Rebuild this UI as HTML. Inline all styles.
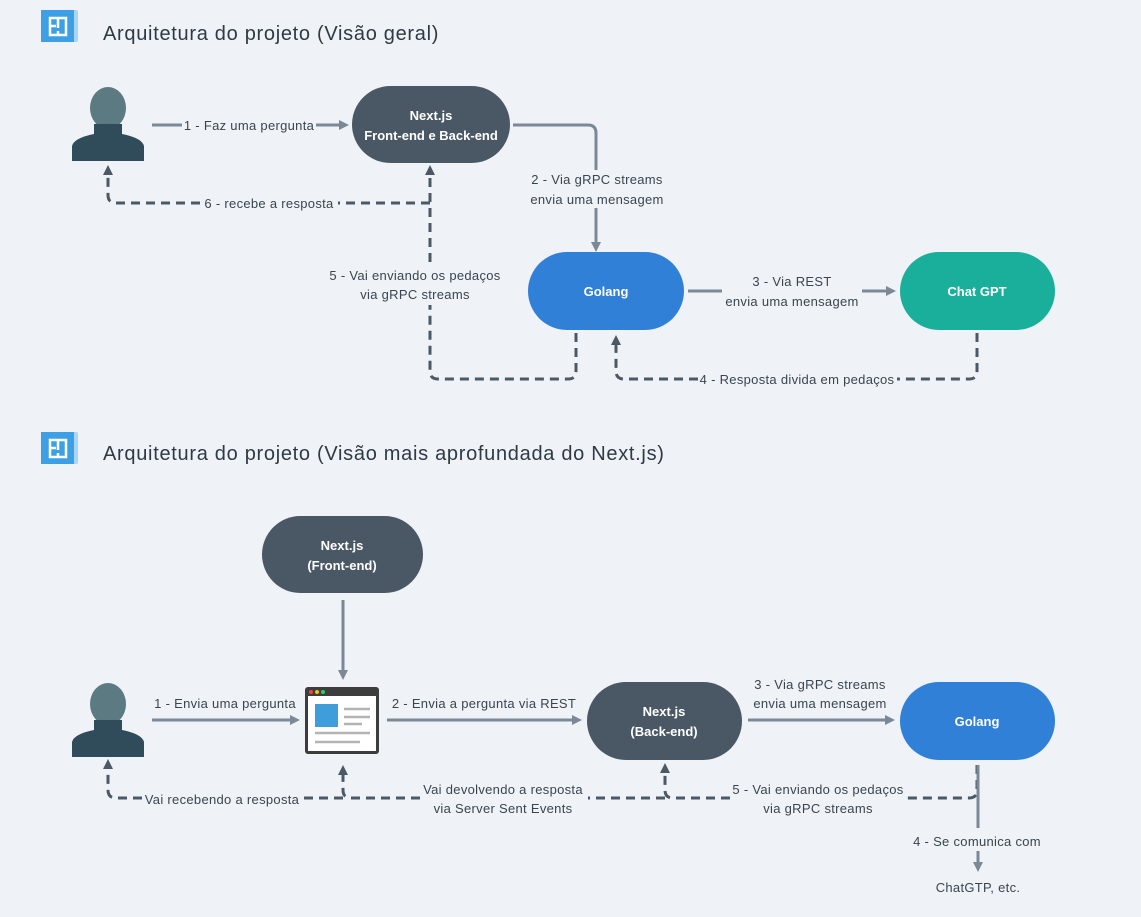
<!DOCTYPE html>
<html><head><meta charset="utf-8"><style>
html,body{margin:0;padding:0;background:#eff2f6;}
svg{display:block;font-family:"Liberation Sans",sans-serif;}
.t{font-size:13px;fill:#3a4550;letter-spacing:0.3px;}
.n{font-size:13px;fill:#fff;font-weight:bold;}
.s{stroke:#7b8895;stroke-width:3;fill:none;}
.d{stroke:#4b5966;stroke-width:3;fill:none;stroke-dasharray:9 6;}
.h{font-size:20px;fill:#2f3a45;letter-spacing:0.7px;}
</style></head><body>
<svg width="1141" height="917" viewBox="0 0 1141 917" xmlns="http://www.w3.org/2000/svg">
<defs>
<marker id="a" markerWidth="10" markerHeight="10" refX="7" refY="5" orient="auto" markerUnits="userSpaceOnUse"><path d="M0,0 L10,5 L0,10 z" fill="#7b8895"/></marker>
<marker id="b" markerWidth="10" markerHeight="10" refX="7" refY="5" orient="auto" markerUnits="userSpaceOnUse"><path d="M0,0 L10,5 L0,10 z" fill="#4b5966"/></marker>
<g id="icon"><rect x="0" y="0" width="37" height="32" rx="2" fill="#aad6f5"/><rect x="0" y="0" width="33" height="32" fill="#3ea0e4"/><path d="M9,8 h16 v17 h-16 z M9,16 h6 M17,8 v10 M17,25 v-4" stroke="#fff" stroke-width="2.5" fill="none"/></g>
<g id="person"><ellipse cx="36" cy="20" rx="18" ry="21" fill="#5b7a82"/><path d="M22,36 h28 v10 q20,4 22,12 v15 h-72 v-15 q2,-8 22,-12 z" fill="#304b5a"/></g>
</defs>

<use href="#icon" x="41" y="10"/>
<text x="103" y="40" class="h">Arquitetura do projeto (Visão geral)</text>
<use href="#person" x="72" y="88"/>

<rect x="352" y="86" width="158" height="77" rx="38.5" fill="#4a5866"/>
<text class="n" x="431" y="120" text-anchor="middle">Next.js</text>
<text class="n" x="431" y="140" text-anchor="middle">Front-end e Back-end</text>

<line class="s" x1="152" y1="125" x2="182" y2="125"/>
<line class="s" x1="316" y1="125" x2="346" y2="125" marker-end="url(#a)"/>
<text class="t" x="249" y="130" text-anchor="middle">1 - Faz uma pergunta</text>

<path class="s" d="M513,125 H588 Q596,125 596,133 V170"/>
<path class="s" d="M596,208 V249" marker-end="url(#a)"/>
<text class="t" x="597" y="184" text-anchor="middle">2 - Via gRPC streams</text>
<text class="t" x="597" y="204" text-anchor="middle">envia uma mensagem</text>

<rect x="528" y="252" width="156" height="78" rx="39" fill="#2f80d6"/>
<text class="n" x="606" y="296" text-anchor="middle">Golang</text>

<line class="s" x1="688" y1="291" x2="722" y2="291"/>
<line class="s" x1="862" y1="291" x2="893" y2="291" marker-end="url(#a)"/>
<text class="t" x="792" y="286" text-anchor="middle">3 - Via REST</text>
<text class="t" x="792" y="306" text-anchor="middle">envia uma mensagem</text>

<rect x="900" y="252" width="155" height="78" rx="39" fill="#1aaf9b"/>
<text class="n" x="977" y="296" text-anchor="middle">Chat GPT</text>

<path class="d" d="M977,333 V371 Q977,379 969,379 H897"/>
<path class="d" d="M698,379 H624 Q616,379 616,371 V338" marker-end="url(#b)"/>
<text class="t" x="797" y="384" text-anchor="middle">4 - Resposta divida em pedaços</text>

<path class="d" d="M576,333 V371 Q576,379 568,379 H438 Q430,379 430,371 V305"/>
<path class="d" d="M430,262 V168" marker-end="url(#b)"/>
<text class="t" x="415" y="280" text-anchor="middle">5 - Vai enviando os pedaços</text>
<text class="t" x="415" y="299" text-anchor="middle">via gRPC streams</text>

<path class="d" d="M430,203 H338"/>
<path class="d" d="M200,203 H116 Q108,203 108,195 V168" marker-end="url(#b)"/>
<text class="t" x="269" y="208" text-anchor="middle">6 - recebe a resposta</text>

<use href="#icon" x="41" y="432"/>
<text x="103" y="460" class="h">Arquitetura do projeto (Visão mais aprofundada do Next.js)</text>

<rect x="262" y="516" width="161" height="77" rx="38.5" fill="#4a5866"/>
<text class="n" x="342" y="550" text-anchor="middle">Next.js</text>
<text class="n" x="342" y="570" text-anchor="middle">(Front-end)</text>
<path class="s" d="M343,600 V677" marker-end="url(#a)"/>

<use href="#person" x="72" y="684"/>

<g transform="translate(305,687)">
<rect x="0" y="0" width="74" height="67" rx="3" fill="#3d3d3d"/>
<rect x="3" y="9" width="68" height="55" fill="#fff"/>
<circle cx="6" cy="5" r="2" fill="#e74c3c"/><circle cx="12" cy="5" r="2" fill="#f1c40f"/><circle cx="18" cy="5" r="2" fill="#2ecc71"/>
<rect x="10" y="17" width="23" height="23" fill="#3f9ddb"/>
<g stroke="#b3b3b3" stroke-width="2.5"><line x1="39" y1="22" x2="65" y2="22"/><line x1="39" y1="30" x2="65" y2="30"/><line x1="39" y1="37" x2="57" y2="37"/><line x1="10" y1="46" x2="65" y2="46"/><line x1="10" y1="55" x2="55" y2="55"/></g>
</g>

<path class="s" d="M152,720 H297" marker-end="url(#a)"/>
<text class="t" x="225" y="708" text-anchor="middle">1 - Envia uma pergunta</text>
<path class="s" d="M387,720 H579" marker-end="url(#a)"/>
<text class="t" x="484" y="708" text-anchor="middle">2 - Envia a pergunta via REST</text>

<rect x="587" y="682" width="155" height="78" rx="39" fill="#4a5866"/>
<text class="n" x="664" y="716" text-anchor="middle">Next.js</text>
<text class="n" x="664" y="736" text-anchor="middle">(Back-end)</text>

<path class="s" d="M748,720 H892" marker-end="url(#a)"/>
<text class="t" x="820" y="689" text-anchor="middle">3 - Via gRPC streams</text>
<text class="t" x="820" y="708" text-anchor="middle">envia uma mensagem</text>

<rect x="900" y="682" width="155" height="78" rx="39" fill="#2f80d6"/>
<text class="n" x="977" y="726" text-anchor="middle">Golang</text>

<path class="d" d="M977,765 V790 Q977,798 969,798 H906"/>
<path class="d" d="M730,798 H673 Q665,798 665,790 V766" marker-end="url(#b)"/>
<text class="t" x="818" y="794" text-anchor="middle">5 - Vai enviando os pedaços</text>
<text class="t" x="818" y="813" text-anchor="middle">via gRPC streams</text>

<path class="d" d="M665,798 H588"/>
<path class="d" d="M420,798 H351 Q343,798 343,790 V768" marker-end="url(#b)"/>
<text class="t" x="503" y="794" text-anchor="middle">Vai devolvendo a resposta</text>
<text class="t" x="503" y="813" text-anchor="middle">via Server Sent Events</text>

<path class="d" d="M343,798 H304"/>
<path class="d" d="M142,798 H116 Q108,798 108,790 V762" marker-end="url(#b)"/>
<text class="t" x="222" y="804" text-anchor="middle">Vai recebendo a resposta</text>

<path class="s" d="M978,765 V828"/>
<path class="s" d="M978,851 V869" marker-end="url(#a)"/>
<text class="t" x="977" y="846" text-anchor="middle">4 - Se comunica com</text>
<text class="t" x="978" y="892" text-anchor="middle">ChatGTP, etc.</text>
</svg>
</body></html>
